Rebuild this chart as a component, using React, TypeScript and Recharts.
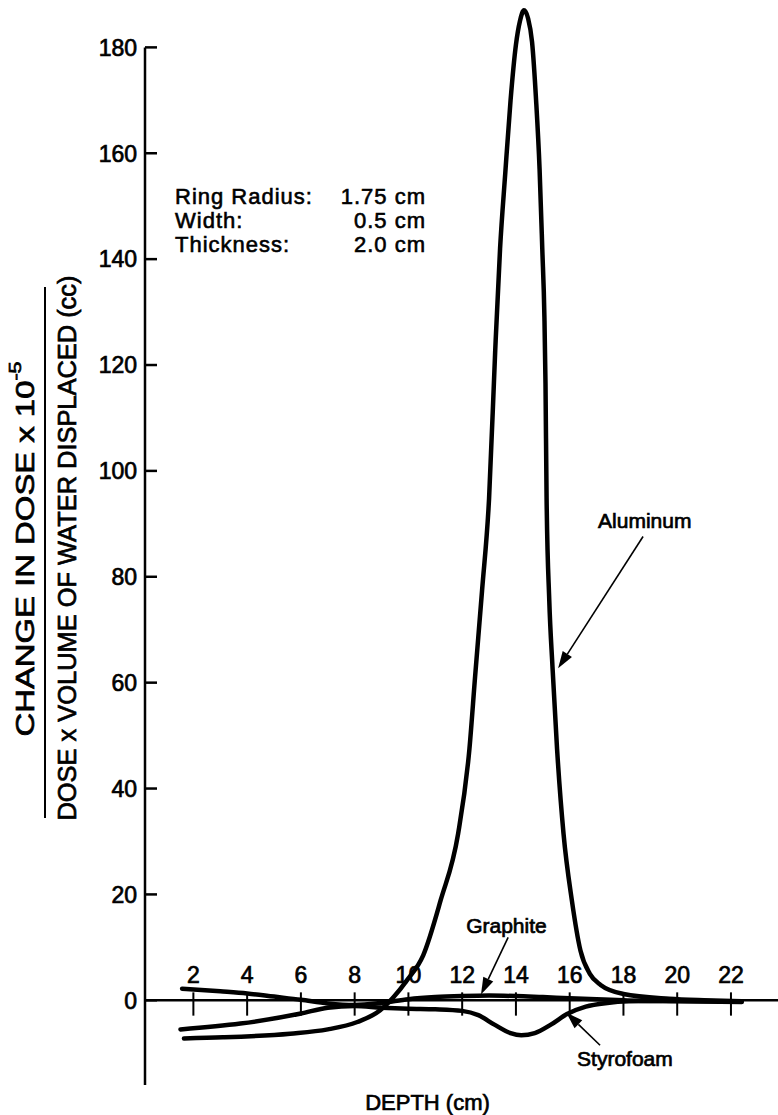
import React from "react";
import { LineChart, Line, XAxis, YAxis, ReferenceLine } from "recharts";

// depth (cm) vs change in dose / (dose x volume displaced), three ring materials
const X_TICKS = [2, 4, 6, 8, 10, 12, 14, 16, 18, 20, 22];
const Y_TICKS = [0, 20, 40, 60, 80, 100, 120, 140, 160, 180];

const ALUMINUM: [number, number][] = [
  [1.65, -7.2], [3.1, -7.0], [5.6, -6.3], [7.0, -5.5], [8.1, -4.1], [8.95, -1.9],
  [9.45, 0.6], [9.95, 3.8], [10.55, 8.5], [11.2, 18.9], [11.85, 31.5], [12.27, 47.5],
  [12.48, 61.1], [12.74, 77.4], [13.0, 94.7], [13.23, 122.8], [13.41, 142], [13.6, 156],
  [13.8, 170], [14.0, 180.5], [14.15, 185], [14.3, 187], [14.45, 185.5], [14.6, 181],
  [14.75, 170], [14.88, 157], [14.98, 142], [15.06, 129], [15.1, 116.5],
  [15.14, 95], [15.24, 75.6], [15.36, 63], [15.53, 47.5], [15.77, 31.5], [16.08, 18.9],
  [16.4, 9.4], [16.75, 5], [17.15, 2.9], [18.0, 1.2], [19.7, 0.3], [21.0, 0], [22.4, -0.2],
];

const GRAPHITE: [number, number][] = [
  [1.58, 2.2], [3.0, 1.7], [4.0, 1.3], [5.0, 0.7], [6.0, 0.1], [7.0, -0.6], [8.0, -0.9],
  [9.0, -0.5], [10.0, 0.2], [11.0, 0.6], [12.0, 0.8], [13.0, 0.9], [14.0, 0.8],
  [15.0, 0.6], [16.0, 0.4], [17.0, 0.2], [18.0, 0], [20.0, -0.2], [22.4, -0.3],
];

const STYROFOAM: [number, number][] = [
  [1.52, -5.5], [3.75, -4.4], [6.0, -2.5], [7.0, -1.4], [8.0, -1.1], [9.0, -1.4],
  [10.0, -1.6], [11.0, -1.7], [12.0, -2.0], [12.6, -2.8], [13.2, -4.6], [13.8, -6.2],
  [14.2, -6.6], [14.7, -6.2], [15.3, -4.6], [15.9, -2.6], [16.6, -1.2], [17.4, -0.5],
  [18.2, -0.2], [19.5, -0.1], [22.0, -0.2],
];

const RING_LABELS = ["Ring Radius:", "Width:", "Thickness:"];
const RING_VALUES = ["1.75 cm", "0.5 cm", "2.0 cm"];

const X_MIN = 0.2;
const X_MAX = 23.75;
const Y_MIN = -16;
const Y_MAX = 188.95;

const FONT = "'Liberation Sans', Arial, sans-serif";
// the lettering in the original is heavier than a regular face
const INK = { fill: "#000", stroke: "#000", strokeWidth: 0.7 };

const toPoints = (rows: [number, number][]) => rows.map(([x, y]) => ({ x, y }));

// arrows: tail -> tip in data units, label offset from the tail in px
const ARROWS = [
  { name: "Aluminum", tail: [18.73, 87.6], tip: [15.57, 62.7], dx: -45, dy: -16 },
  { name: "Graphite", tail: [13.71, 11.9], tip: [12.7, 1.1], dx: -42, dy: -12 },
  { name: "Styrofoam", tail: [17.13, -8.5], tip: [15.87, -2.3], dx: -23, dy: 13 },
];

const YTick = (props: any) => {
  const { x, y, payload } = props;
  return (
    <g>
      <line x1={x} x2={x + 12} y1={y} y2={y} stroke="#000" strokeWidth={2.5} />
      <text x={x - 8} y={y} dy="0.36em" textAnchor="end" fontSize={23} fontFamily={FONT} {...INK}>
        {payload.value}
      </text>
    </g>
  );
};

const XTickMark = (props: any) => {
  const { x1, y1, x2, y2, value } = props;
  return (
    <g>
      <line x1={x1} y1={y1} x2={x2} y2={y2} stroke="#000" strokeWidth={2} />
      <text x={x1} y={Math.min(y1, y2) - 9} textAnchor="middle" fontSize={23} fontFamily={FONT} {...INK}>
        {value}
      </text>
    </g>
  );
};

const Arrow = (props: any) => {
  const { x1, y1, x2, y2, name, dx, dy } = props;
  const a = Math.atan2(y2 - y1, x2 - x1);
  const len = 17;
  const half = 5.5;
  const bx = x2 - len * Math.cos(a);
  const by = y2 - len * Math.sin(a);
  const px = -Math.sin(a) * half;
  const py = Math.cos(a) * half;
  return (
    <g>
      <line x1={x1} y1={y1} x2={bx} y2={by} stroke="#000" strokeWidth={1.6} />
      <polygon points={`${x2},${y2} ${bx + px},${by + py} ${bx - px},${by - py}`} fill="#000" />
      <text x={x1 + dx} y={y1 + dy} dy="0.36em" fontSize={21} fontFamily={FONT} {...INK}>
        {name}
      </text>
    </g>
  );
};

export default function App() {
  return (
    <div style={{ position: "absolute", left: 0, top: 0, width: 778, height: 1115, background: "#fff" }}>
      <LineChart width={778} height={1115} margin={{ top: 0, right: 0, bottom: 0, left: 0 }}>
        <XAxis
          type="number"
          dataKey="x"
          domain={[X_MIN, X_MAX]}
          allowDataOverflow
          height={30}
          axisLine={false}
          tickLine={false}
          tick={false}
          label={{
            value: "DEPTH (cm)",
            position: "insideBottom",
            offset: 5,
            dx: -34,
            fontSize: 22,
            fontFamily: FONT,
            ...INK,
          }}
        />
        <YAxis
          type="number"
          domain={[Y_MIN, Y_MAX]}
          allowDataOverflow
          ticks={Y_TICKS}
          width={145}
          axisLine={false}
          tickLine={false}
          tickSize={0}
          tickMargin={0}
          tick={<YTick />}
        />

        <ReferenceLine
          segment={[{ x: X_MIN, y: Y_MIN }, { x: X_MIN, y: 180 }]}
          stroke="#000"
          strokeWidth={2.5}
          ifOverflow="visible"
        />
        <ReferenceLine y={0} stroke="#000" strokeWidth={2.5} ifOverflow="visible" />
        {X_TICKS.map((t) => (
          <ReferenceLine
            key={t}
            segment={[{ x: t, y: -2.9 }, { x: t, y: 1.5 }]}
            ifOverflow="visible"
            shape={(p: any) => <XTickMark {...p} value={t} />}
          />
        ))}

        <Line
          data={toPoints(ALUMINUM)}
          dataKey="y"
          type="monotone"
          stroke="#000"
          strokeWidth={4.5}
          strokeLinecap="round"
          dot={false}
          activeDot={false}
          isAnimationActive={false}
        />
        <Line
          data={toPoints(GRAPHITE)}
          dataKey="y"
          type="monotone"
          stroke="#000"
          strokeWidth={4.5}
          strokeLinecap="round"
          dot={false}
          activeDot={false}
          isAnimationActive={false}
        />
        <Line
          data={toPoints(STYROFOAM)}
          dataKey="y"
          type="monotone"
          stroke="#000"
          strokeWidth={4.5}
          strokeLinecap="round"
          dot={false}
          activeDot={false}
          isAnimationActive={false}
        />

        {ARROWS.map((a) => (
          <ReferenceLine
            key={a.name}
            segment={[{ x: a.tail[0], y: a.tail[1] }, { x: a.tip[0], y: a.tip[1] }]}
            ifOverflow="visible"
            shape={(p: any) => <Arrow {...p} name={a.name} dx={a.dx} dy={a.dy} />}
          />
        ))}
      </LineChart>

      {/* y axis title, written as a fraction */}
      <svg
        width={100}
        height={1115}
        style={{ position: "absolute", left: 0, top: 0, pointerEvents: "none" }}
      >
        <text
          x={25}
          y={549}
          transform="rotate(-90 25 549)"
          textAnchor="middle"
          dominantBaseline="central"
          fontSize={26}
          fontFamily={FONT}
          textLength={375}
          lengthAdjust="spacingAndGlyphs"
          {...INK}
        >
          CHANGE IN DOSE x 10
          <tspan dy={-10} fontSize={17}>-5</tspan>
        </text>
        <line x1={45} x2={45} y1={287} y2={818} stroke="#000" strokeWidth={2} />
        <text
          x={67}
          y={548}
          transform="rotate(-90 67 548)"
          textAnchor="middle"
          dominantBaseline="central"
          fontSize={26}
          fontFamily={FONT}
          textLength={545}
          lengthAdjust="spacingAndGlyphs"
          {...INK}
        >
          DOSE x VOLUME OF WATER DISPLACED (cc)
        </text>
      </svg>

      <div
        style={{
          position: "absolute",
          left: 175,
          top: 185,
          width: 251,
          fontFamily: FONT,
          fontSize: 22,
          lineHeight: "24px",
          letterSpacing: "1px",
          color: "#000",
          WebkitTextStroke: "0.6px #000",
        }}
      >
        {RING_LABELS.map((k, i) => (
          <div key={k} style={{ display: "flex", justifyContent: "space-between" }}>
            <span>{k}</span>
            <span>{RING_VALUES[i]}</span>
          </div>
        ))}
      </div>
    </div>
  );
}
